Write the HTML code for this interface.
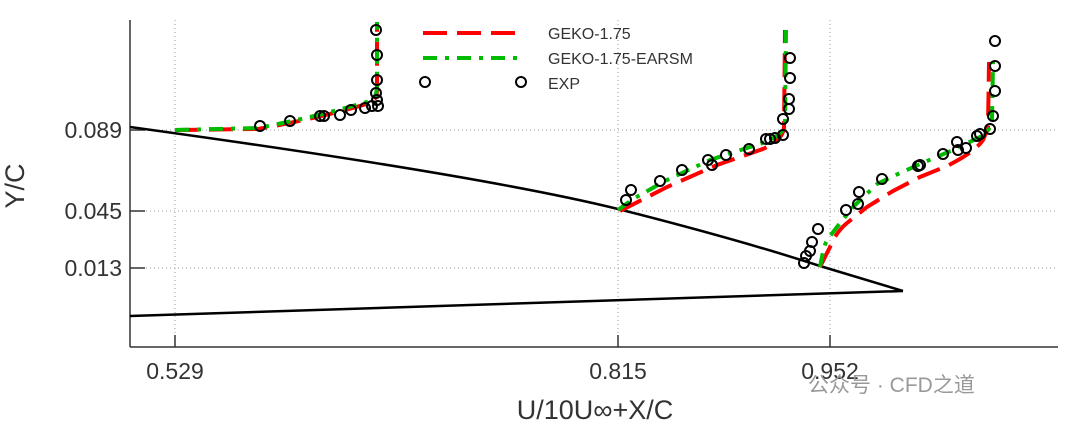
<!DOCTYPE html><html><head><meta charset="utf-8"><style>body{margin:0;background:#fff}svg{display:block}text{font-family:"Liberation Sans","Noto Sans CJK SC",sans-serif}</style></head><body>
<svg width="1080" height="432" viewBox="0 0 1080 432">
<g stroke="#999" stroke-width="1" stroke-dasharray="1,3" fill="none">
<line x1="175" y1="20" x2="175" y2="347"/><line x1="618" y1="20" x2="618" y2="347"/><line x1="830" y1="20" x2="830" y2="347"/>
<line x1="130" y1="130" x2="1058" y2="130"/><line x1="130" y1="211" x2="1058" y2="211"/><line x1="130" y1="268" x2="1058" y2="268"/>
</g>
<g stroke="#333" stroke-width="1.5" fill="none">
<line x1="130" y1="20" x2="130" y2="347"/><line x1="130" y1="347" x2="1058" y2="347"/>
<line x1="130" y1="130" x2="145" y2="130"/><line x1="130" y1="211" x2="145" y2="211"/><line x1="130" y1="268" x2="145" y2="268"/>
<line x1="175" y1="347" x2="175" y2="335"/><line x1="618" y1="347" x2="618" y2="335"/><line x1="830" y1="347" x2="830" y2="335"/>
</g>
<g stroke="#000" stroke-width="2.5" fill="none">
<path d="M130,127 Q480,175 618,209 Q740,240 820,266 L903,291"/>
<path d="M130,316 L903,291"/>
</g>
<g fill="none" stroke-width="4">
<path stroke="#f00" stroke-dasharray="24,10" d="M175,130 L258,129 Q320,118 370,103 Q378,100 377,85 L377,22"/>
<path stroke="#0b0" stroke-dasharray="14,8,4,8" d="M175,130 L258,128 Q320,116 370,101 Q377,98 377,85 L377,22"/>
<path stroke="#f00" stroke-dasharray="24,10" d="M620,211 L667,187 L717,165 L760,150 Q782,142 784,128 L785,30"/>
<path stroke="#0b0" stroke-dasharray="14,8,4,8" d="M618,210 L633,199 L667,180 L710,160 L753,146 Q782,138 785,125 L786,30"/>
<path stroke="#f00" stroke-dasharray="24,10" d="M820,267 L830,247 Q836,232 847,223 L867,207 L893,191 L920,177 L947,166 Q975,152 983,140 L988,128 L989,62"/>
<path stroke="#0b0" stroke-dasharray="14,8,4,8" d="M820,267 Q824,245 827,240 L837,227 L853,207 L877,184 L900,173 L927,161 L953,150 L980,137 Q990,132 992,120 L993,62"/>
</g>
<g fill="none" stroke="#000" stroke-width="2">
<circle cx="260" cy="126" r="5"/><circle cx="290" cy="121" r="5"/><circle cx="320" cy="116" r="5"/><circle cx="324" cy="116" r="5"/><circle cx="340" cy="115" r="5"/><circle cx="351" cy="110" r="5"/><circle cx="365" cy="108" r="5"/><circle cx="372" cy="106" r="5"/><circle cx="378" cy="106" r="5"/><circle cx="377" cy="100" r="5"/><circle cx="376" cy="93" r="5"/><circle cx="377" cy="80" r="5"/><circle cx="377" cy="55" r="5"/><circle cx="376" cy="30" r="5"/>
<circle cx="626" cy="200" r="5"/><circle cx="631" cy="190" r="5"/><circle cx="660" cy="181" r="5"/><circle cx="682" cy="170" r="5"/><circle cx="708" cy="160" r="5"/><circle cx="712" cy="165" r="5"/><circle cx="726" cy="155" r="5"/><circle cx="749" cy="149" r="5"/><circle cx="766" cy="139" r="5"/><circle cx="770" cy="139" r="5"/><circle cx="775" cy="138" r="5"/><circle cx="783" cy="135" r="5"/><circle cx="783" cy="119" r="5"/><circle cx="789" cy="109" r="5"/><circle cx="789" cy="99" r="5"/><circle cx="790" cy="78" r="5"/><circle cx="790" cy="58" r="5"/>
<circle cx="804" cy="263" r="5"/><circle cx="806" cy="256" r="5"/><circle cx="810" cy="251" r="5"/><circle cx="812" cy="242" r="5"/><circle cx="818" cy="229" r="5"/><circle cx="846" cy="210" r="5"/><circle cx="858" cy="204" r="5"/><circle cx="859" cy="192" r="5"/><circle cx="882" cy="179" r="5"/><circle cx="918" cy="166" r="5"/><circle cx="920" cy="165" r="5"/><circle cx="943" cy="154" r="5"/><circle cx="957" cy="142" r="5"/><circle cx="958" cy="150" r="5"/><circle cx="966" cy="148" r="5"/><circle cx="977" cy="136" r="5"/><circle cx="980" cy="134" r="5"/><circle cx="990" cy="129" r="5"/><circle cx="993" cy="116" r="5"/><circle cx="995" cy="91" r="5"/><circle cx="995" cy="66" r="5"/><circle cx="995" cy="41" r="5"/>
<circle cx="425" cy="82" r="5"/><circle cx="521" cy="82" r="5"/>
</g>
<line x1="423" y1="33" x2="522" y2="33" stroke="#f00" stroke-width="4" stroke-dasharray="24,10"/>
<line x1="423" y1="58" x2="522" y2="58" stroke="#0b0" stroke-width="4" stroke-dasharray="14,8,4,8"/>
<g font-size="16" fill="#333"><text x="548" y="39">GEKO-1.75</text><text x="548" y="64">GEKO-1.75-EARSM</text><text x="548" y="89">EXP</text></g>
<g font-size="23" fill="#333">
<text x="122" y="138" text-anchor="end">0.089</text><text x="122" y="219" text-anchor="end">0.045</text><text x="122" y="276" text-anchor="end">0.013</text>
<text x="175" y="379" text-anchor="middle">0.529</text><text x="618" y="379" text-anchor="middle">0.815</text><text x="830" y="379" text-anchor="middle">0.952</text>
<text x="595" y="419" text-anchor="middle" font-size="27">U/10U∞+X/C</text>
<text transform="translate(24,186) rotate(-90)" text-anchor="middle" font-size="27">Y/C</text>
</g>
<text x="808" y="392" font-size="21" fill="#999">公众号 · CFD之道</text>
</svg></body></html>
